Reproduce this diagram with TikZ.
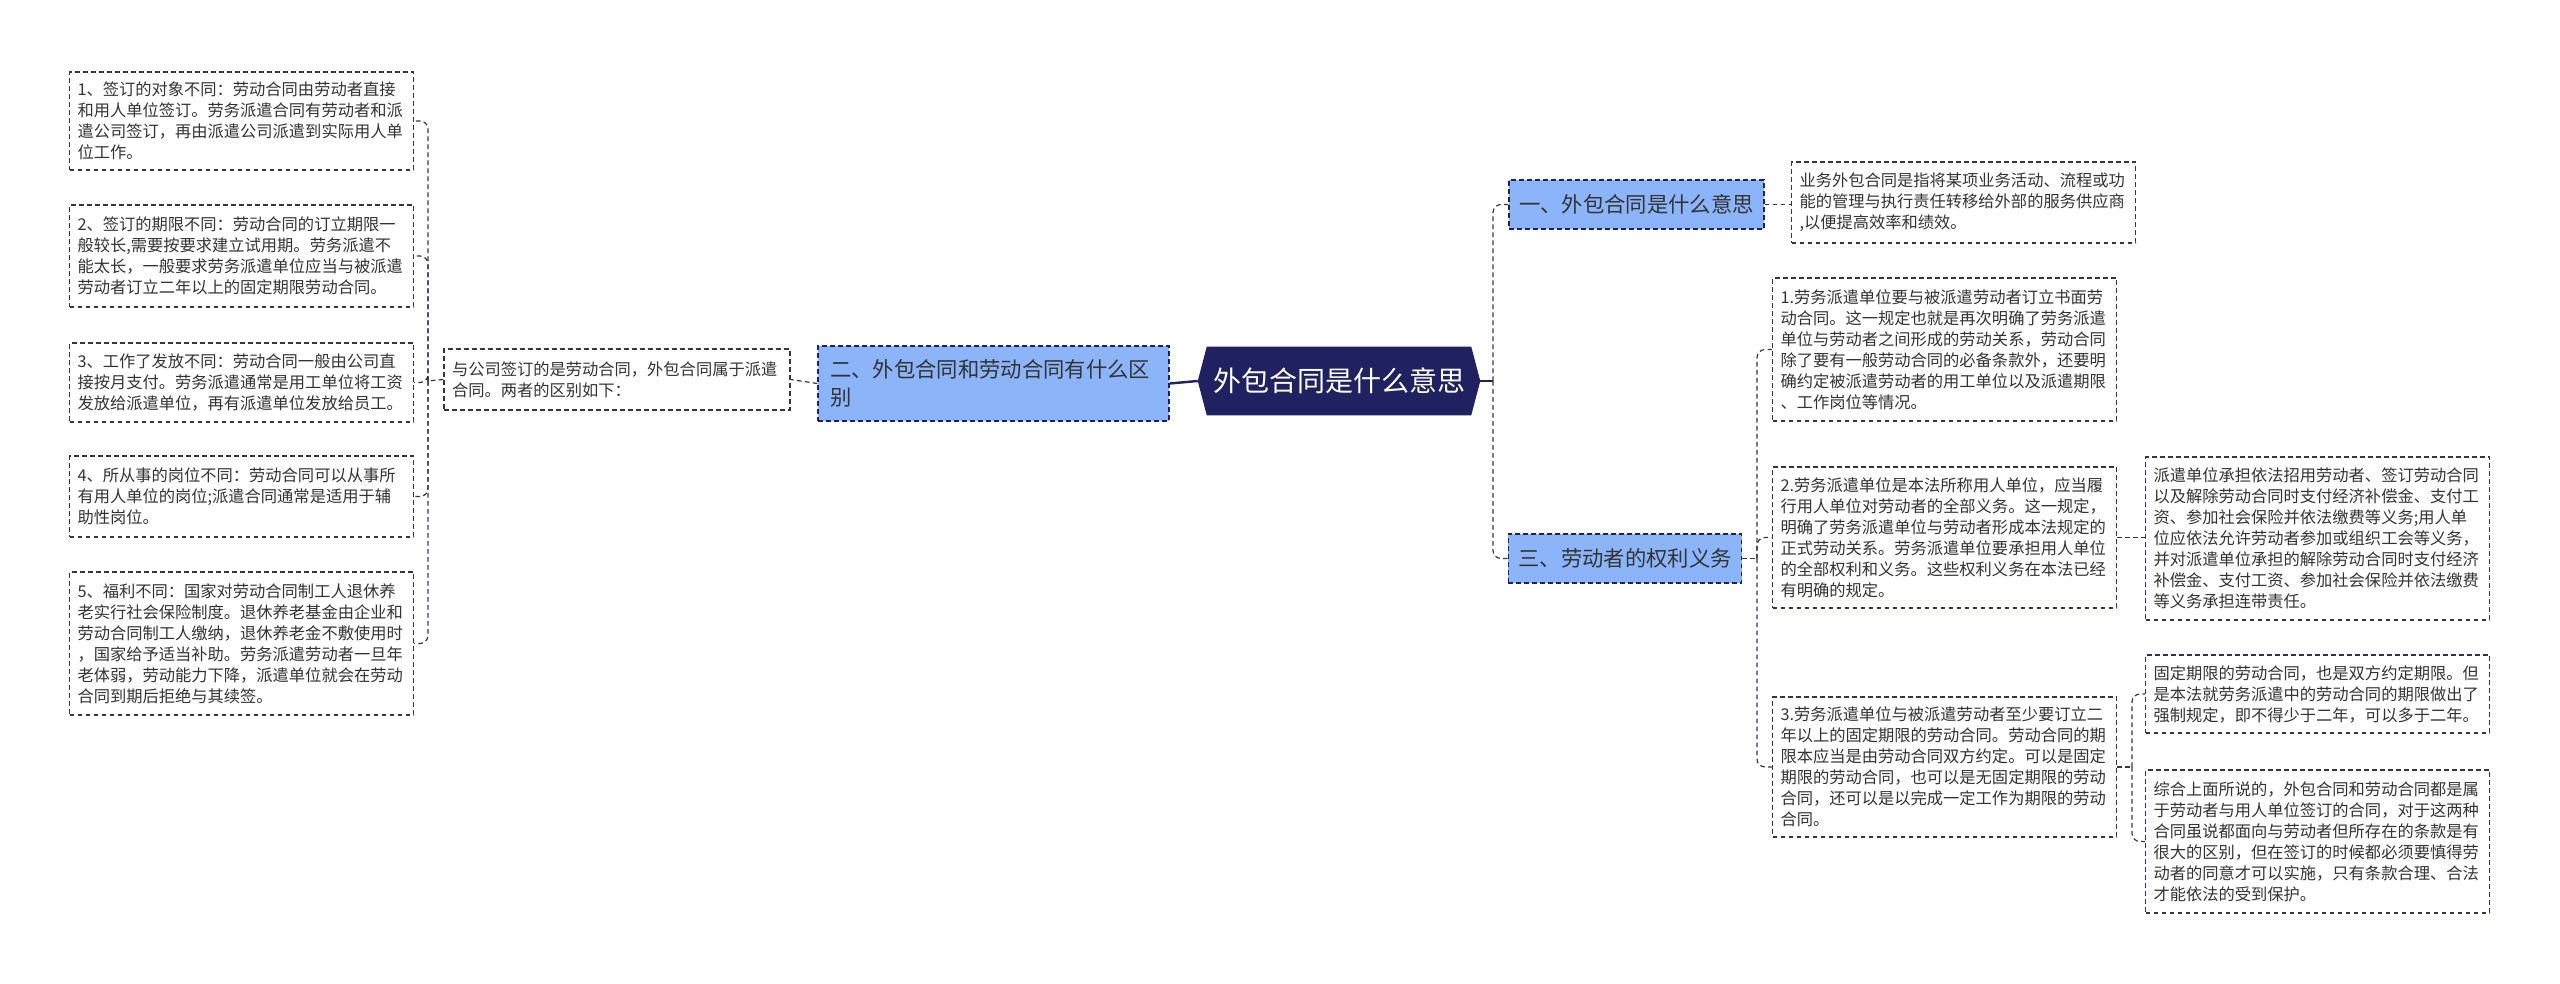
\documentclass[tikz,border=0pt]{standalone}
\usepackage{fontspec}
\newfontfamily\cjk{Noto Sans CJK SC}
\usepackage{tikz}
\usetikzlibrary{positioning,backgrounds}
\usepackage{xcolor}
\definecolor{rnavy}{HTML}{1F2160}
\definecolor{bblue}{HTML}{8CB4F8}
\definecolor{lgray}{HTML}{34344A}
\definecolor{tgray}{HTML}{333333}

\tikzset{
  txtbox/.style={draw=lgray,line width=0.9pt,dash pattern=on 3.5pt off 2.5pt,fill=white,text=tgray,
    font=\cjk\fontsize{12.2pt}{15.75pt}\selectfont,align=left,text width=246pt,inner xsep=6pt},
  branch/.style={draw=rnavy,line width=0.9pt,dash pattern=on 3.5pt off 2.5pt,fill=bblue,text=tgray,
    font=\cjk\fontsize{16pt}{21pt}\selectfont,align=left,inner xsep=7.5pt},
  link/.style={draw=lgray,line width=0.9pt,dash pattern=on 3.5pt off 2.5pt,rounded corners=6pt},
  rootlink/.style={draw=rnavy,line width=1.8pt},
}

\begin{document}
\begin{tikzpicture}[x=0.75pt,y=-0.75pt]
\useasboundingbox (0,0) rectangle (2560,983);
% centre
\node[minimum width=211.5pt,minimum height=51pt,text=white,font=\cjk\fontsize{21pt}{25pt}\selectfont] (root) at (1339,381) {外包合同是什么意思};
\begin{pgfonlayer}{background}
\fill[rnavy] ([xshift=6.75pt]root.north west) -- ([xshift=-6.75pt]root.north east) -- (root.east)
  -- ([xshift=-6.75pt]root.south east) -- ([xshift=6.75pt]root.south west) -- (root.west) -- cycle;
\end{pgfonlayer}
% branches
\node[branch,minimum width=263.25pt,minimum height=56.25pt,text width=245pt,inner xsep=9pt] (two) at (993.5,383.5) {二、外包合同和劳动合同有什么区\\别};
\node[branch,minimum width=191.25pt,minimum height=36.75pt] (one) at (1636.5,204.5) {一、外包合同是什么意思};
\node[branch,minimum width=174pt,minimum height=36.75pt] (three) at (1625,558.5) {三、劳动者的权利义务};
% left side
\node[txtbox,text width=247.5pt,minimum height=45.75pt] (mid) at (617,379.5) {与公司签订的是劳动合同，外包合同属于派遣\\合同。两者的区别如下：};
\node[txtbox,minimum height=73.5pt] (b1) at (241.5,121) {1、签订的对象不同：劳动合同由劳动者直接\\和用人单位签订。劳务派遣合同有劳动者和派\\遣公司签订，再由派遣公司派遣到实际用人单\\位工作。};
\node[txtbox,minimum height=76.5pt] (b2) at (241.5,256) {2、签订的期限不同：劳动合同的订立期限一\\般较长,需要按要求建立试用期。劳务派遣不\\能太长，一般要求劳务派遣单位应当与被派遣\\劳动者订立二年以上的固定期限劳动合同。};
\node[txtbox,minimum height=59.25pt] (b3) at (241.5,382.5) {3、工作了发放不同：劳动合同一般由公司直\\接按月支付。劳务派遣通常是用工单位将工资\\发放给派遣单位，再有派遣单位发放给员工。};
\node[txtbox,minimum height=60.75pt] (b4) at (241.5,496.5) {4、所从事的岗位不同：劳动合同可以从事所\\有用人单位的岗位;派遣合同通常是适用于辅\\助性岗位。};
\node[txtbox,minimum height=107.25pt] (b5) at (241.5,643.5) {5、福利不同：国家对劳动合同制工人退休养\\老实行社会保险制度。退休养老基金由企业和\\劳动合同制工人缴纳，退休养老金不敷使用时\\，国家给予适当补助。劳务派遣劳动者一旦年\\老体弱，劳动能力下降，派遣单位就会在劳动\\合同到期后拒绝与其续签。};
% right side
\node[txtbox,minimum height=60.75pt] (desc) at (1963.5,202.5) {业务外包合同是指将某项业务活动、流程或功\\能的管理与执行责任转移给外部的服务供应商\\,以便提高效率和绩效。};
\node[txtbox,minimum height=107.25pt] (c1) at (1944.5,349.5) {1.劳务派遣单位要与被派遣劳动者订立书面劳\\动合同。这一规定也就是再次明确了劳务派遣\\单位与劳动者之间形成的劳动关系，劳动合同\\除了要有一般劳动合同的必备条款外，还要明\\确约定被派遣劳动者的用工单位以及派遣期限\\、工作岗位等情况。};
\node[txtbox,minimum height=105.75pt] (c2) at (1944.5,537.5) {2.劳务派遣单位是本法所称用人单位，应当履\\行用人单位对劳动者的全部义务。这一规定，\\明确了劳务派遣单位与劳动者形成本法规定的\\正式劳动关系。劳务派遣单位要承担用人单位\\的全部权利和义务。这些权利义务在本法已经\\有明确的规定。};
\node[txtbox,minimum height=105pt] (c3) at (1944.5,767) {3.劳务派遣单位与被派遣劳动者至少要订立二\\年以上的固定期限的劳动合同。劳动合同的期\\限本应当是由劳动合同双方约定。可以是固定\\期限的劳动合同，也可以是无固定期限的劳动\\合同，还可以是以完成一定工作为期限的劳动\\合同。};
\node[txtbox,minimum height=122.25pt] (d1) at (2317.5,538.5) {派遣单位承担依法招用劳动者、签订劳动合同\\以及解除劳动合同时支付经济补偿金、支付工\\资、参加社会保险并依法缴费等义务;用人单\\位应依法允许劳动者参加或组织工会等义务，\\并对派遣单位承担的解除劳动合同时支付经济\\补偿金、支付工资、参加社会保险并依法缴费\\等义务承担连带责任。};
\node[txtbox,minimum height=58.5pt] (d2) at (2317.5,694) {固定期限的劳动合同，也是双方约定期限。但\\是本法就劳务派遣中的劳动合同的期限做出了\\强制规定，即不得少于二年，可以多于二年。};
\node[txtbox,minimum height=107.25pt] (d3) at (2317.5,841.5) {综合上面所说的，外包合同和劳动合同都是属\\于劳动者与用人单位签订的合同，对于这两种\\合同虽说都面向与劳动者但所存在的条款是有\\很大的区别，但在签订的时候都必须要慎得劳\\动者的同意才可以实施，只有条款合理、合法\\才能依法的受到保护。};
% junctions
\coordinate (jl) at (428,381);
\coordinate (jr) at (1493,381);
\coordinate (jc) at (1757,558.5);
\coordinate (jd) at (2132,767);
% connectors
\draw[rootlink] (root.west) -- (two.east);
\draw[rootlink] (root.east) -- (jr);
\draw[link] (jr) |- (one.west);
\draw[link] (jr) |- (three.west);
\draw[link] (two.west) -- (mid.east);
\draw[link] (mid.west) -- (jl);
\foreach \b in {b1,b2,b3,b4,b5}
  \draw[link] (jl) |- (\b.east);
\draw[link] (one.east) -- (one.east -| desc.west);
\draw[link] (three.east) -- (jc);
\foreach \c in {c1,c2,c3}
  \draw[link] (jc) |- (\c.west);
\draw[link] (c2.east) -- (c2.east -| d1.west);
\draw[link] (c3.east) -- (jd);
\draw[link] (jd) |- (d2.west);
\draw[link] (jd) |- (d3.west);
\end{tikzpicture}
\end{document}
